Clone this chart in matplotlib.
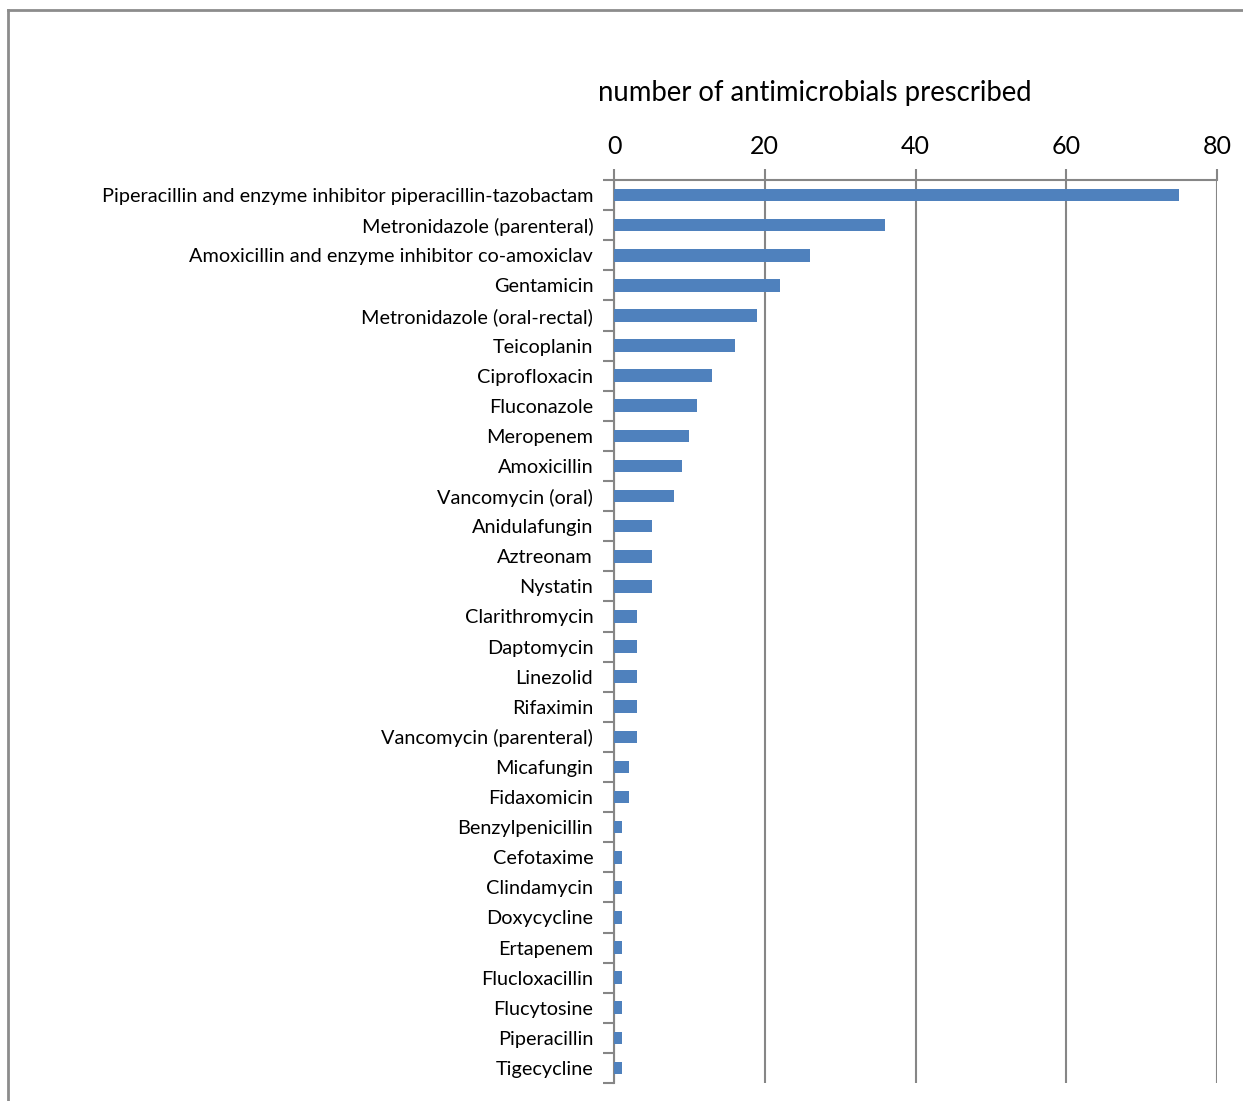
import matplotlib
matplotlib.use("Agg")
import matplotlib.pyplot as plt
from matplotlib.lines import Line2D
import numpy as np

plt.rcParams['font.family'] = ['Lato', 'DejaVu Sans']

drugs = [
    "Piperacillin and enzyme inhibitor piperacillin-tazobactam",
    "Metronidazole (parenteral)",
    "Amoxicillin and enzyme inhibitor co-amoxiclav",
    "Gentamicin",
    "Metronidazole (oral-rectal)",
    "Teicoplanin",
    "Ciprofloxacin",
    "Fluconazole",
    "Meropenem",
    "Amoxicillin",
    "Vancomycin (oral)",
    "Anidulafungin",
    "Aztreonam",
    "Nystatin",
    "Clarithromycin",
    "Daptomycin",
    "Linezolid",
    "Rifaximin",
    "Vancomycin (parenteral)",
    "Micafungin",
    "Fidaxomicin",
    "Benzylpenicillin",
    "Cefotaxime",
    "Clindamycin",
    "Doxycycline",
    "Ertapenem",
    "Flucloxacillin",
    "Flucytosine",
    "Piperacillin",
    "Tigecycline",
]
counts = [75, 36, 26, 22, 19, 16, 13, 11, 10, 9, 8, 5, 5, 5, 3, 3, 3, 3, 3, 2, 2,
          1, 1, 1, 1, 1, 1, 1, 1, 1]
xticks = [0, 20, 40, 60, 80]
title = "number of antimicrobials prescribed"

W, H = 1243, 1101
fig = plt.figure(figsize=(W / 100, H / 100), dpi=100)
ax = fig.add_axes([614 / W, 1 - 1083 / H, (1217 - 614) / W, (1083 - 180) / H])

n = len(drugs)
y = np.arange(n)
ax.barh(y, counts, height=0.42, color="#4F81BD", zorder=3)
ax.set_ylim(n - 0.5, -0.5)
ax.set_xlim(0, 80)

ax.xaxis.tick_top()
ax.set_xticks(xticks)
ax.set_xticklabels([str(t) for t in xticks], fontsize=18)
ax.tick_params(axis='x', which='major', direction='out', length=8, width=1.5,
               color="#868686", pad=8)
ax.grid(axis='x', color="#868686", linewidth=1.5, zorder=0)

ax.set_yticks(y)
ax.set_yticklabels(drugs, fontsize=14.3)
ax.tick_params(axis='y', which='major', length=0, pad=15)
ax.set_yticks(np.arange(-0.5, n, 1.0), minor=True)
ax.tick_params(axis='y', which='minor', direction='out', length=8, width=1.5,
               color="#868686")

for s in ['right', 'bottom']:
    ax.spines[s].set_visible(False)
for s in ['left', 'top']:
    ax.spines[s].set_color("#868686")
    ax.spines[s].set_linewidth(1.5)

fig.text(815 / W, 1 - 93 / H, title, fontsize=19.8, ha='center', va='center')

# outer frame lines (left and top)
fig.add_artist(Line2D([8 / W, 8 / W], [0, 1 - 10 / H], transform=fig.transFigure,
                      color="#8c8c8c", linewidth=2))
fig.add_artist(Line2D([8 / W, 1], [1 - 10 / H, 1 - 10 / H], transform=fig.transFigure,
                      color="#8c8c8c", linewidth=2))

fig.savefig("out.png", dpi=100)
